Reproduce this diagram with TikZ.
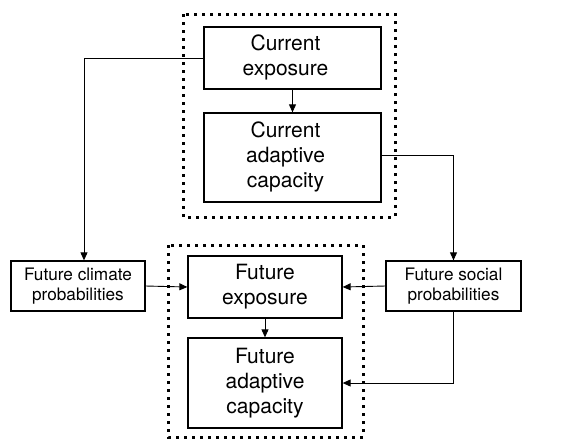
\documentclass[tikz,border=0pt]{standalone}
\usepackage{fontspec}
\setmainfont{TeX Gyre Heros}
\usetikzlibrary{arrows.meta}
\newcommand{\leftshifted}[1]{\kern-14pt\begin{tabular}{@{}c@{}}#1\end{tabular}}
\begin{document}
\begin{tikzpicture}[x=1pt,y=-1pt,
  big/.style={draw,line width=1.3pt,align=center,inner sep=0pt,font=\fontsize{21}{25}\selectfont},
  small/.style={draw,line width=1.3pt,align=center,inner sep=0pt,font=\fontsize{17.2}{20.5}\selectfont},
  conn/.style={line width=0.9pt,-{Triangle[length=8pt,width=7pt]}},
  dotbox/.style={line width=3pt,dash pattern=on 3pt off 5pt}]
\useasboundingbox (0,0) rectangle (567,440);
\draw[dotbox] (183,14) rectangle (395,217);
\draw[dotbox] (168,245) rectangle (363,437);
\node[big,align=none,minimum width=177pt,minimum height=62pt] (ce) at (292.5,58) {\leftshifted{Current\\exposure}};
\node[big,align=none,minimum width=177pt,minimum height=89pt] (cac) at (292.5,157.5) {\leftshifted{Current\\adaptive\\capacity}};
\node[big,minimum width=154pt,minimum height=62pt] (fe) at (265,287) {Future\\exposure};
\node[big,minimum width=154pt,minimum height=90pt] (fac) at (265,383) {Future\\adaptive\\capacity};
\node[small,minimum width=134pt,minimum height=50pt] (fc) at (78,286) {Future climate\\probabilities};
\node[small,minimum width=135pt,minimum height=50pt] (fs) at (453.5,286) {Future social\\probabilities};
\draw[conn] (ce) -- (cac);
\draw[conn] (fe) -- (fac);
\draw[conn] (ce.west) -| ([xshift=6pt]fc.north);
\draw[conn] ([yshift=2pt]cac.east) -| (fs.north);
\draw[conn] (fc.east) -- (fe.west);
\draw[conn] (fs.west) -- (fe.east);
\draw[conn] (fs.south) |- (fac.east);
\end{tikzpicture}
\end{document}
